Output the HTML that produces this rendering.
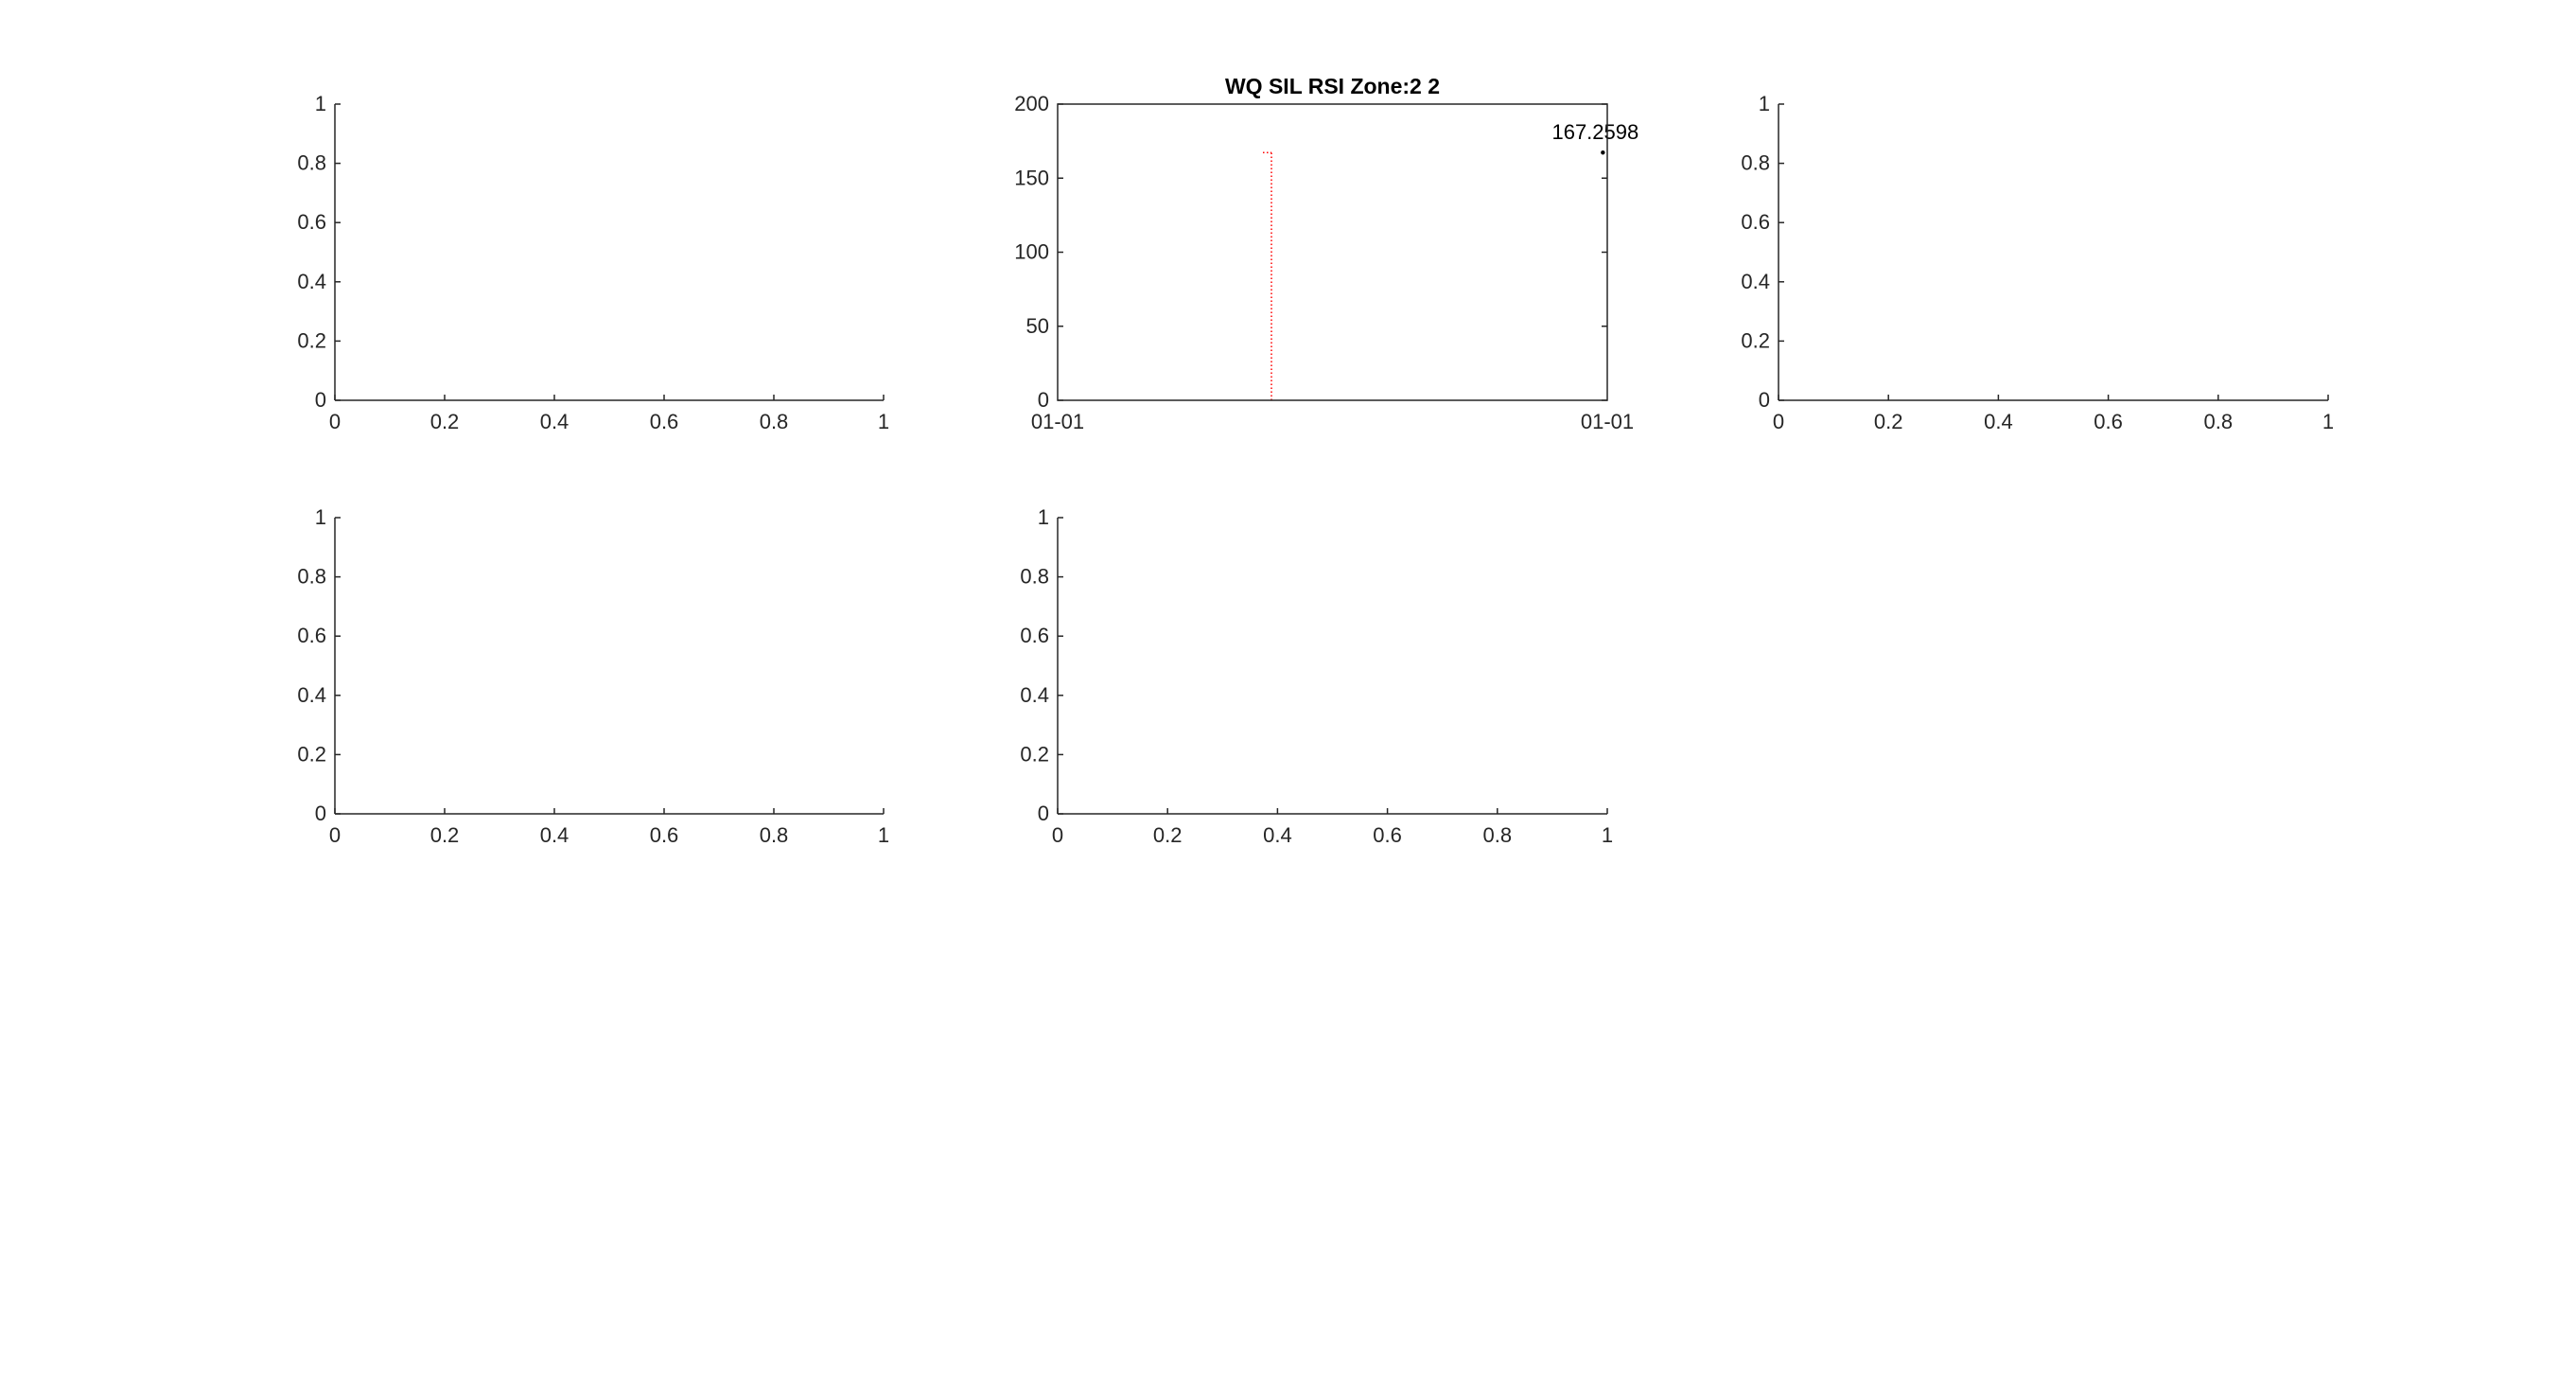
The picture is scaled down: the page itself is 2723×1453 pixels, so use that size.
<!DOCTYPE html>
<html><head><meta charset="utf-8"><style>
html,body{margin:0;padding:0;background:#fff;}
svg{display:block;font-family:"Liberation Sans",Arial,sans-serif;}
</style></head><body>
<svg id="fig" width="2723" height="1453" viewBox="0 0 2723 1453" xmlns="http://www.w3.org/2000/svg">
<rect width="2723" height="1453" fill="#fff"/>
</svg>
<script>
// Middle chart data
const mainTitle = "WQ SIL RSI Zone:2 2";
const yTicksMain = [0, 50, 100, 150, 200];
const xTickLabelsMain = ["01-01", "01-01"];
const stemX = [0.389];
const stemY = [167.2598];
const pointX = [0.992];
const pointY = [167.2598];
const pointLabels = ["167.2598"];
const unitTicks = [0, 0.2, 0.4, 0.6, 0.8, 1];
const unitTickLabels = ["0", "0.2", "0.4", "0.6", "0.8", "1"];

const NS = "http://www.w3.org/2000/svg";
const svg = document.getElementById("fig");
function mk(tag, attrs, parent) {
  const e = document.createElementNS(NS, tag);
  for (const k in attrs) e.setAttribute(k, attrs[k]);
  (parent || svg).appendChild(e);
  return e;
}
const AX = [
  {name: "axes-top-left", x: 354, y: 110, w: 580, h: 313},
  {name: "axes-top-middle", x: 1118, y: 110, w: 581, h: 313},
  {name: "axes-top-right", x: 1880, y: 110, w: 581, h: 313},
  {name: "axes-bottom-left", x: 354, y: 547, w: 580, h: 313},
  {name: "axes-bottom-middle", x: 1118, y: 547, w: 581, h: 313}
];
const col = "#262626";
const FS = 22;

function drawEmpty(a) {
  const g = mk("g", {});
  
  
  const sx = v => a.x + v * a.w, sy = v => a.y + a.h - v * a.h;
  mk("line", {x1: a.x, y1: a.y, x2: a.x, y2: a.y + a.h, stroke: col, "stroke-width": 1.5}, g);
  mk("line", {x1: a.x, y1: a.y + a.h, x2: a.x + a.w, y2: a.y + a.h, stroke: col, "stroke-width": 1.5}, g);
  unitTicks.forEach((v, i) => {
    mk("line", {x1: sx(v), y1: a.y + a.h, x2: sx(v), y2: a.y + a.h - 6, stroke: col, "stroke-width": 1.5}, g);
    const t = mk("text", {x: sx(v), y: a.y + a.h + 30, "text-anchor": "middle", "font-size": FS, fill: col}, g);
    t.textContent = unitTickLabels[i];
    
    
    mk("line", {x1: a.x, y1: sy(v), x2: a.x + 6, y2: sy(v), stroke: col, "stroke-width": 1.5}, g);
    const u = mk("text", {x: a.x - 9, y: sy(v) + 7, "text-anchor": "end", "font-size": FS, fill: col}, g);
    u.textContent = unitTickLabels[i];
    
    
  });
}
[0, 2, 3, 4].forEach(i => drawEmpty(AX[i]));

// middle chart
(function () {
  const a = AX[1];
  const g = mk("g", {});
  
  
  const ymax = 200;
  const sx = v => a.x + v * a.w, sy = v => a.y + a.h - v / ymax * a.h;
  stemX.forEach((xv, i) => {
    const l = mk("line", {x1: sx(xv), y1: sy(0), x2: sx(xv), y2: sy(stemY[i]), stroke: "#ff0000", "stroke-width": 1.5, "stroke-dasharray": "1.5 2.5"}, g);
    
    
    mk("line", {x1: sx(xv) - 9, y1: sy(stemY[i]), x2: sx(xv), y2: sy(stemY[i]), stroke: "#ff0000", "stroke-width": 1.5, "stroke-dasharray": "1.5 2.5"}, g);
  });
  pointX.forEach((xv, i) => {
    const c = mk("circle", {cx: sx(xv), cy: sy(pointY[i]), r: 2.2, fill: "#000"}, g);
    
    
    const t = mk("text", {x: sx(xv) - 8, y: sy(pointY[i]) - 14, "text-anchor": "middle", "font-size": FS, fill: "#000"}, g);
    t.textContent = pointLabels[i];
    
    
  });
  mk("rect", {x: a.x, y: a.y, width: a.w, height: a.h, fill: "none", stroke: col, "stroke-width": 1.5}, g);
  yTicksMain.forEach(v => {
    mk("line", {x1: a.x, y1: sy(v), x2: a.x + 6, y2: sy(v), stroke: col, "stroke-width": 1.5}, g);
    mk("line", {x1: a.x + a.w, y1: sy(v), x2: a.x + a.w - 6, y2: sy(v), stroke: col, "stroke-width": 1.5}, g);
    const u = mk("text", {x: a.x - 9, y: sy(v) + 7, "text-anchor": "end", "font-size": FS, fill: col}, g);
    u.textContent = String(v);
    
    
  });
  xTickLabelsMain.forEach((s, i) => {
    const xv = i / (xTickLabelsMain.length - 1);
    const t = mk("text", {x: sx(xv), y: a.y + a.h + 30, "text-anchor": "middle", "font-size": FS, fill: col}, g);
    t.textContent = s;
    
    
  });
  const tt = mk("text", {x: a.x + a.w / 2, y: 99, "text-anchor": "middle", "font-size": 23, "font-weight": "bold", fill: "#000"}, g);
  tt.textContent = mainTitle;
  
  
})();
</script>
</body></html>
